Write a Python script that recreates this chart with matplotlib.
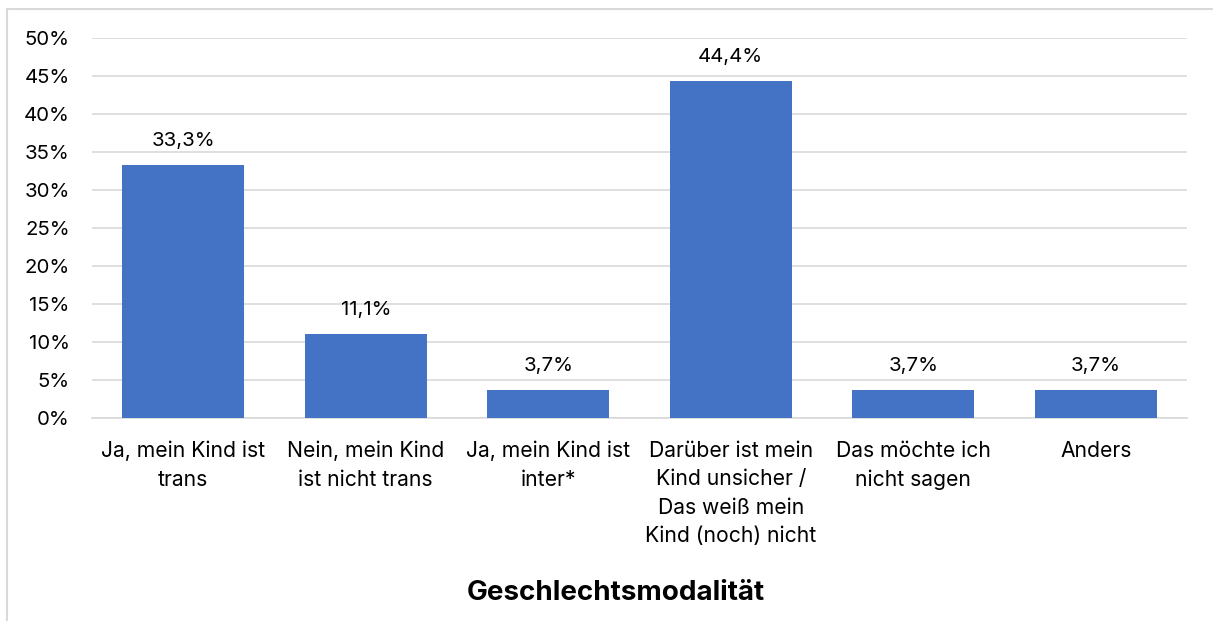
import matplotlib
matplotlib.use("Agg")
import matplotlib.pyplot as plt
from matplotlib.patches import Rectangle
import numpy as np

categories = [
    "Ja, mein Kind ist\ntrans",
    "Nein, mein Kind\nist nicht trans",
    "Ja, mein Kind ist\ninter*",
    "Darüber ist mein\nKind unsicher /\nDas weiß mein\nKind (noch) nicht",
    "Das möchte ich\nnicht sagen",
    "Anders",
]
values = [0.333, 0.111, 0.037, 0.444, 0.037, 0.037]
value_labels = ["33,3%", "11,1%", "3,7%", "44,4%", "3,7%", "3,7%"]
yticks = [0, 0.05, 0.10, 0.15, 0.20, 0.25, 0.30, 0.35, 0.40, 0.45, 0.50]

plt.rcParams['font.family'] = ['Inter', 'DejaVu Sans']

W, H = 1213, 621
fig = plt.figure(figsize=(W / 100, H / 100), dpi=100)

# chart frame (light gray border, runs off the right/bottom edge)
fig.patches.append(Rectangle((7 / W, -0.1), 1.2, 1 - 9 / H + 0.1,
                             transform=fig.transFigure, fill=False,
                             edgecolor='#d9d9d9', linewidth=1.5))

ax = fig.add_axes([92 / W, 1 - 418 / H, (1187 - 92) / W, (418 - 38) / H])

x = np.arange(len(categories))
ax.bar(x, values, width=0.67, color='#4472C4', zorder=3)

for xi, v, lab in zip(x, values, value_labels):
    ax.annotate(lab, (xi, v), xytext=(0, 17), textcoords='offset points',
                ha='center', va='center', fontsize=14.7, color='#000000')

ax.set_xlim(-0.5, len(categories) - 0.5)
ax.set_ylim(0, 0.5)
ax.set_yticks(yticks)
ax.set_yticklabels([f"{int(round(t * 100))}%" for t in yticks], fontsize=14.7)
ax.set_xticks(x)
ax.set_xticklabels(categories, fontsize=15.2, linespacing=1.52, va='top')

ax.grid(axis='y', color='#d9d9d9', linewidth=1.2, zorder=0)
for s in ['top', 'right', 'left']:
    ax.spines[s].set_visible(False)
ax.spines['bottom'].set_color('#d9d9d9')
ax.spines['bottom'].set_linewidth(1.2)
ax.tick_params(axis='both', length=0)
ax.tick_params(axis='y', pad=16)
ax.tick_params(axis='x', pad=16.5)

fig.text(616 / W, 1 - 593 / H, "Geschlechtsmodalität", ha='center', va='center',
         fontsize=20, fontweight='bold')

fig.savefig("out.png", dpi=100)
